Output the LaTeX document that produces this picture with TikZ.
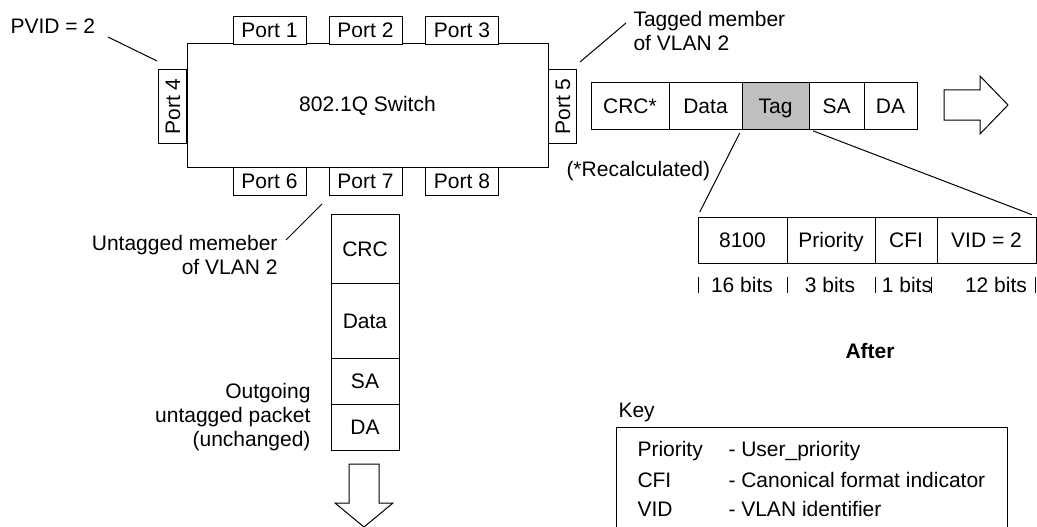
\documentclass[tikz,border=0pt]{standalone}
\usepackage{fontspec}
\setmainfont{Liberation Sans}
\begin{document}
\begin{tikzpicture}[x=1pt,y=-1pt,line width=1pt,font=\fontsize{21}{24}\selectfont,
    cell/.style={draw, inner sep=0pt, minimum height=46pt, text height=15pt, text depth=0pt},
    port/.style={draw, fill=white, inner sep=0pt, minimum width=73pt, minimum height=28pt, text height=15pt, text depth=0pt},
    lbl/.style={inner sep=0pt}]
    \useasboundingbox (0,0) rectangle (1037,527);
        % switch and its ports
        \node[draw, minimum width=361pt, minimum height=123pt] (sw) at (367.5,105.5) {802.1Q Switch};
        \foreach \x/\y/\n/\r in {269.5/30.5/1/0,365.5/30.5/2/0,462/30.5/3/0,172.5/106.5/4/90,562.5/106.5/5/90,269.5/181/6/0,365.5/181/7/0,462/181/8/0}{
            \node[port, rotate=\r] (p\n) at (\x,\y) {Port \n};
        }
        \node[lbl, anchor=west] (pvid) at (10,26) {PVID = 2};
        \node[lbl, anchor=west, align=left] (tagged) at (633,31) {Tagged member\\of VLAN 2};
        \node[lbl, anchor=east, align=right] (untagged) at (278,255) {Untagged memeber\\of VLAN 2};
        \coordinate (c1) at (108,37);
        \coordinate (c2) at (157,61);
        \coordinate (c3) at (580,62);
        \coordinate (c4) at (626,23);
        \coordinate (c5) at (322,204);
        \coordinate (c6) at (286,240);
        \draw[] (c1) -- (c2);
        \draw[] (c3) -- (c4);
        \draw[] (c5) -- (c6);
        % tagged packet
        \foreach \x/\w/\n/\l/\c in {630/78/crc/CRC*/white,705.5/73/data/Data/white,775.5/67/tag/Tag/black!25,836.5/55/sa/SA/white,890.5/53/da/DA/white}{
            \node[cell, fill=\c, minimum width=\w pt] (\n) at (\x,106) {\l};
        }
        \draw[] (944,90) -- (980,90) -- (980,76) -- (1008,105) -- (980,134) -- (980,120) -- (944,120) -- cycle;
        \node[lbl, anchor=west] (recalc) at (566,171) {(*Recalculated)};
        % tag fields
        \foreach \x/\w/\n/\l in {742.5/89/tpid/8100,831/88/pri/Priority,906/62/cfi/CFI,986.5/99/vid/{VID = 2}}{
            \node[cell, minimum width=\w pt] (\n) at (\x,240) {\l};
        }
        \draw[shorten <=4pt, shorten >=5pt] (tag.south west) -- (tpid.north west);
        \draw[shorten <=4pt, shorten >=5pt] (tag.south east) -- (vid.north east);
        \foreach \x/\n/\l in {742/b1/16 bits,830/b2/3 bits,907/b3/1 bits,996/b4/12 bits}{
            \node[lbl] (\n) at (\x,285) {\l};
        }
        \foreach \x in {698,787,875,931,1035}{
            \draw[] (\x,277) -- (\x,293);
        }
        \node[lbl, font=\fontsize{21}{24}\selectfont\bfseries] (after) at (870,351) {After};
        % untagged packet
        \foreach \y/\h/\n/\l in {248.5/69/ocrc/CRC,320.5/75/odata/Data,381/46/osa/SA,427/46/oda/DA}{
            \node[cell, minimum width=68pt, minimum height=\h pt] (\n) at (365,\y) {\l};
        }
        \node[lbl, anchor=east, align=right] (outgoing) at (311,417) {Outgoing\\untagged packet\\(unchanged)};
        \draw[] (349,464) -- (379,464) -- (379,503) -- (393,503) -- (364,527) -- (335,503) -- (349,503) -- cycle;
        % key
        \node[lbl, anchor=west] (key) at (618,412) {Key};
        \draw[] (616,540) |- (1007,427) -- (1007,540);
        \foreach \y/\a/\b in {451/Priority/- User\_priority,480/CFI/- Canonical format indicator,509/VID/- VLAN identifier}{
            \node[lbl, anchor=west] (ka\y) at (637,\y) {\a};
            \node[lbl, anchor=west] (kb\y) at (728,\y) {\b};
        }
    \end{tikzpicture}
\end{document}
